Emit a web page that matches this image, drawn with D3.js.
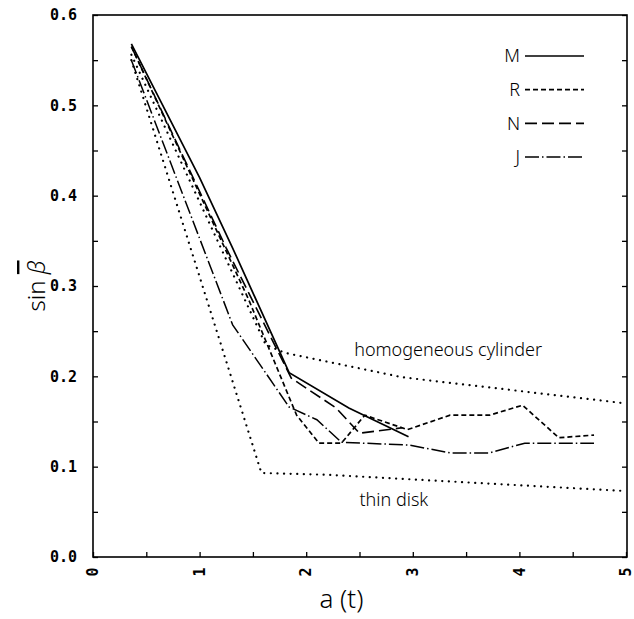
<!DOCTYPE html>
<html lang="en">
<head>
  <meta charset="UTF-8">
  <title>sin beta vs a(t)</title>
  <style>
    body { margin: 0; background: #fff; }
    text { fill: #000; }
    .tick-label { font-family: "DejaVu Sans Mono", monospace; font-weight: bold; font-size: 15px; }
    .title { font-family: "Noto Sans", "DejaVu Sans", sans-serif; font-weight: 300; }
  </style>
</head>
<body>
  <svg id="chart" width="634" height="619"></svg>

  <script src="https://d3js.org/d3.v7.min.js"></script>
  <script>
    // Series
    const xM = [0.36, 1.0, 1.31, 1.84, 2.4, 2.96]
    const yM = [0.568, 0.42, 0.342, 0.204, 0.165, 0.133]

    const xR = [0.36, 1.46, 1.91, 2.12, 2.33, 2.55, 2.95, 3.35, 3.72, 4.03, 4.37, 4.70]
    const yR = [0.565, 0.285, 0.157, 0.126, 0.126, 0.157, 0.141, 0.157, 0.157, 0.168, 0.132, 0.135]

    const xN = [0.36, 1.25, 1.86, 2.28, 2.5, 2.9]
    const yN = [0.565, 0.342, 0.198, 0.165, 0.137, 0.143]

    const xJ = [0.36, 1.31, 1.84, 2.1, 2.33, 2.96, 3.36, 3.71, 4.05, 4.7]
    const yJ = [0.55, 0.257, 0.166, 0.152, 0.127, 0.124, 0.115, 0.115, 0.126, 0.126]

    const xCyl = [0.36, 1.62, 1.8, 2.9, 5.0]
    const yCyl = [0.556, 0.235, 0.226, 0.199, 0.170]

    const xDisk = [0.36, 1.58, 2.2, 5.0]
    const yDisk = [0.55, 0.093, 0.091, 0.073]

    const xTicks = [0, 1, 2, 3, 4, 5]
    const yTicks = [0.0, 0.1, 0.2, 0.3, 0.4, 0.5, 0.6]
    const legendNames = ['M', 'R', 'N', 'J']

    const margin = { top: 15, right: 7, bottom: 62, left: 93 }
    const width = 634 - margin.left - margin.right
    const height = 619 - margin.top - margin.bottom

    const svg = d3.select('#chart')
    const g = svg.append('g').attr('transform', `translate(${margin.left}, ${margin.top})`)

    const xscale = d3.scaleLinear().domain([0, 5]).range([0, width - 1])
    const yscale = d3.scaleLinear().domain([0, 0.6]).range([height, 0])

    // frame
    g.append('rect')
      .attr('width', width).attr('height', height)
      .attr('fill', 'none').attr('stroke', '#000').attr('stroke-width', 1.6)

    // inward ticks, every half step
    const yMinor = d3.range(0, 0.6001, 0.05)
    const xMinor = d3.range(0, 5.001, 0.5)

    g.append('g')
      .call(d3.axisLeft(yscale).tickValues(yMinor).tickSize(-5).tickFormat(''))
      .call(a => a.select('.domain').remove())
    g.append('g')
      .attr('transform', `translate(${width}, 0)`)
      .call(d3.axisRight(yscale).tickValues(yMinor).tickSize(-5).tickFormat(''))
      .call(a => a.select('.domain').remove())
    g.append('g')
      .attr('transform', `translate(0, ${height})`)
      .call(d3.axisBottom(xscale).tickValues(xMinor).tickSize(-5).tickFormat(''))
      .call(a => a.select('.domain').remove())
    g.selectAll('.tick line').attr('stroke-width', 1.3)

    // tick labels
    g.selectAll('.ylab')
      .data(yTicks)
      .enter()
      .append('text')
      .attr('class', 'tick-label')
      .attr('x', -16)
      .attr('y', d => yscale(d))
      .attr('dy', '0.35em')
      .attr('text-anchor', 'end')
      .text(d => d.toFixed(1))

    g.selectAll('.xlab')
      .data(xTicks)
      .enter()
      .append('text')
      .attr('class', 'tick-label')
      .attr('transform', d => `translate(${xscale(d)}, ${height + 15}) rotate(-90)`)
      .attr('dy', '0.35em')
      .attr('text-anchor', 'middle')
      .text(d => d)

    // axis titles
    svg.append('text')
      .attr('class', 'title')
      .attr('transform', `translate(45, ${margin.top + height / 2}) rotate(-90)`)
      .attr('text-anchor', 'middle')
      .attr('font-size', 24)
      .html('sin <tspan font-style="italic" text-decoration="overline">&#946;</tspan>')

    svg.append('text')
      .attr('class', 'title')
      .attr('x', margin.left + xscale(2.33))
      .attr('y', 608)
      .attr('text-anchor', 'middle')
      .attr('font-size', 26)
      .text('a (t)')

    // curves
    const dotted = '0.1 6.5'
    const series = [
      { x: xCyl, y: yCyl, dash: dotted, width: 2.2 },
      { x: xDisk, y: yDisk, dash: dotted, width: 2.2 },
      { x: xJ, y: yJ, dash: '14 3 1.5 3', width: 1.5 },
      { x: xN, y: yN, dash: '12 5', width: 1.6 },
      { x: xR, y: yR, dash: '5 3', width: 1.7 },
      { x: xM, y: yM, dash: null, width: 1.7 }
    ]

    const line = d3.line().x(d => xscale(d[0])).y(d => yscale(d[1]))

    g.selectAll('.curve')
      .data(series)
      .enter()
      .append('path')
      .attr('class', 'curve')
      .attr('d', s => line(s.x.map((v, i) => [v, s.y[i]])))
      .attr('fill', 'none')
      .attr('stroke', '#000')
      .attr('stroke-width', s => s.width)
      .attr('stroke-dasharray', s => s.dash)
      .attr('stroke-linecap', s => s.dash === dotted ? 'round' : 'butt')

    // curve labels
    g.append('text')
      .attr('class', 'title')
      .attr('x', xscale(2.45)).attr('y', yscale(0.222))
      .attr('font-size', 18)
      .attr('font-weight', 400)
      .text('homogeneous cylinder')

    g.append('text')
      .attr('class', 'title')
      .attr('x', xscale(2.5)).attr('y', yscale(0.056))
      .attr('font-size', 18)
      .attr('font-weight', 400)
      .text('thin disk')

    // legend
    const legendDash = [null, '5 3', '12 5', '14 3 1.5 3']
    const legendY = d3.scalePoint().domain(legendNames).range([56, 157])
    const legend = svg.append('g')

    legend.selectAll('text')
      .data(legendNames)
      .enter()
      .append('text')
      .attr('class', 'title')
      .attr('font-weight', 400)
      .attr('font-size', 18)
      .attr('x', 520)
      .attr('y', d => legendY(d))
      .attr('dy', '0.35em')
      .attr('text-anchor', 'end')
      .text(d => d)

    legend.selectAll('line')
      .data(legendNames)
      .enter()
      .append('line')
      .attr('x1', 525).attr('x2', 584)
      .attr('y1', d => legendY(d)).attr('y2', d => legendY(d))
      .attr('stroke', '#000')
      .attr('stroke-width', 1.6)
      .attr('stroke-dasharray', (d, i) => legendDash[i])
  </script>
</body>
</html>
